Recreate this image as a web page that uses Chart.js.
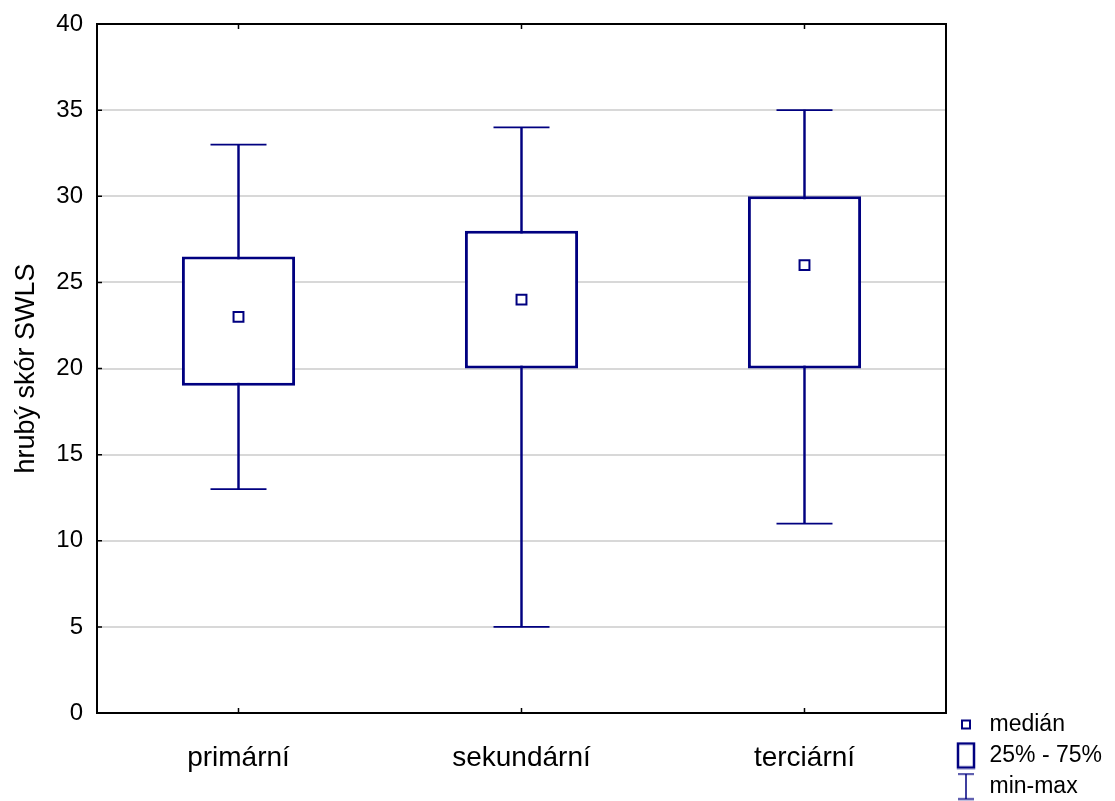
<!DOCTYPE html>
<html>
<head>
<meta charset="utf-8">
<script src="https://cdn.jsdelivr.net/npm/chart.js@4.4.1/dist/chart.umd.min.js"></script>
<style>
  html, body { margin: 0; padding: 0; background: #ffffff; }
  #wrap { width: 1115px; height: 801px; position: relative; }
</style>
</head>
<body>
<div id="wrap"><canvas id="c" width="1115" height="801"></canvas></div>
<script>
// ---- data ----
const categories = ['primární', 'sekundární', 'terciární'];
const minValues = [13, 5, 11];
const q1Values = [19, 20, 20];
const medianValues = [23, 24, 26];
const q3Values = [26.5, 28, 30];
const maxValues = [33, 34, 35];
const yTicks = [0, 5, 10, 15, 20, 25, 30, 35, 40];
const legendLabels = ['medián', '25% - 75%', 'min-max'];
const yTitle = 'hrubý skór SWLS';

// ---- styling ----
const NAVY = '#000080';
const FONT = "'Liberation Sans', Arial, sans-serif";

function makeIcon(w, h, draw) {
  const cv = document.createElement('canvas');
  cv.width = w; cv.height = h;
  const g = cv.getContext('2d');
  draw(g);
  return cv;
}
const iconMedian = makeIcon(12, 12, g => {
  g.fillStyle = '#fff'; g.fillRect(1, 1, 10, 10);
  g.strokeStyle = NAVY; g.lineWidth = 2; g.strokeRect(2, 2, 8, 8);
});
const iconBox = makeIcon(20, 28, g => {
  g.fillStyle = '#fff'; g.fillRect(1, 1, 18, 26);
  g.strokeStyle = NAVY; g.lineWidth = 2.5; g.strokeRect(2, 2, 16, 24);
});
const iconWhisker = makeIcon(20, 28, g => {
  g.strokeStyle = NAVY; g.lineWidth = 1.5;
  g.beginPath();
  g.moveTo(2, 1.5); g.lineTo(18, 1.5);
  g.moveTo(10, 1.5); g.lineTo(10, 26.5);
  g.moveTo(2, 26.5); g.lineTo(18, 26.5);
  g.stroke();
});
const legendIcons = [iconMedian, iconBox, iconWhisker];

const framePlugin = {
  id: 'frame',
  afterDraw(chart) {
    const {ctx, chartArea: a, scales} = chart;
    ctx.save();
    ctx.strokeStyle = '#000';
    ctx.lineWidth = 2;
    ctx.strokeRect(a.left, a.top, a.right - a.left, a.bottom - a.top);
    ctx.lineWidth = 1.5;
    ctx.beginPath();
    yTicks.forEach(v => {
      const y = scales.y.getPixelForValue(v);
      ctx.moveTo(a.left, y); ctx.lineTo(a.left + 5, y);
    });
    categories.forEach((c, i) => {
      const x = scales.x.getPixelForValue(i);
      ctx.moveTo(x, a.top); ctx.lineTo(x, a.top + 5);
      ctx.moveTo(x, a.bottom); ctx.lineTo(x, a.bottom - 5);
    });
    ctx.stroke();
    ctx.restore();
  }
};

new Chart(document.getElementById('c'), {
  type: 'bar',
  data: {
    labels: categories,
    datasets: [
      {
        type: 'line', label: 'medián', data: medianValues, order: 0,
        showLine: false, pointStyle: 'rect', pointRadius: 7,
        pointBackgroundColor: '#fff', pointBorderColor: NAVY, pointBorderWidth: 2
      },
      {
        label: '25% - 75%', data: q1Values.map((q, i) => [q, q3Values[i]]), order: 1,
        grouped: false, backgroundColor: '#fff', borderColor: NAVY, borderWidth: 3,
        borderSkipped: false, categoryPercentage: 1, barPercentage: 0.4
      },
      {
        type: 'line', label: 'max', data: maxValues, order: 2,
        showLine: false, pointStyle: 'line', pointRadius: 28,
        pointBorderColor: NAVY, pointBorderWidth: 1.8
      },
      {
        type: 'line', label: 'min', data: minValues, order: 2,
        showLine: false, pointStyle: 'line', pointRadius: 28,
        pointBorderColor: NAVY, pointBorderWidth: 1.8
      },
      {
        label: 'min-max', data: minValues.map((m, i) => [m, maxValues[i]]), order: 3,
        grouped: false, backgroundColor: NAVY, borderWidth: 0, barThickness: 1.8
      }
    ]
  },
  options: {
    responsive: false,
    animation: false,
    layout: { autoPadding: false, padding: { top: 24, right: 3, bottom: -5, left: 0 } },
    plugins: {
      tooltip: { enabled: false },
      legend: {
        position: 'right',
        align: 'end',
        labels: {
          usePointStyle: true,
          pointStyleWidth: 24,
          padding: 8,
          color: '#000',
          font: { family: FONT, size: 23 },
          generateLabels: () => legendLabels.map((t, i) => ({
            text: t, pointStyle: legendIcons[i], fillStyle: '#fff',
            strokeStyle: NAVY, lineWidth: 0, fontColor: '#000', hidden: false, datasetIndex: i
          }))
        },
        onClick: () => {}
      }
    },
    scales: {
      x: {
        offset: true,
        grid: { display: false, drawTicks: false },
        border: { display: false },
        ticks: { color: '#000', padding: 28, font: { family: FONT, size: 28 } },
        afterFit: s => { s.height = 93; }
      },
      y: {
        min: 0, max: 40,
        afterBuildTicks: s => { s.ticks = yTicks.map(v => ({ value: v })); },
        grid: { color: '#d8d8d8', lineWidth: 2, drawTicks: true, tickLength: 14, tickColor: 'rgba(0,0,0,0)' },
        border: { display: false },
        ticks: { color: '#000', padding: 0, font: { family: FONT, size: 24 } },
        title: {
          display: true, text: yTitle, color: '#000',
          font: { family: FONT, size: 27 }, padding: { top: 10, bottom: 0 }
        },
        afterFit: s => { s.width = 97; s.paddingTop = 0; s.paddingBottom = 0; }
      }
    }
  },
  plugins: [framePlugin]
});
</script>
</body>
</html>
